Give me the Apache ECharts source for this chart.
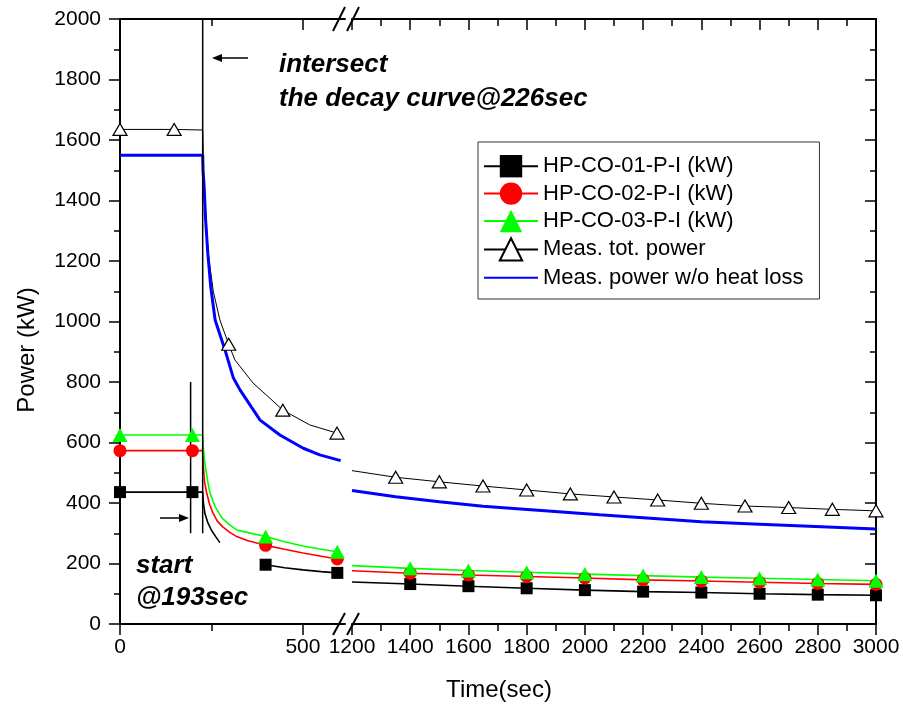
<!DOCTYPE html>
<html>
<head>
<meta charset="utf-8">
<title>Power decay</title>
<script src="https://cdn.jsdelivr.net/npm/echarts@6/dist/echarts.min.js"></script>
<style>
  html, body { margin: 0; padding: 0; background: #fff; }
  #chart { width: 903px; height: 711px; }
</style>
</head>
<body>
<div id="chart"></div>
<script>
// ---- data: time in seconds, power in kW ----
// left segment of the broken time axis (0–615 s)
const hpMarksL = [0, 198, 398, 594];
const hp01TimesL = [0, 198, 226, 228, 232, 240, 250, 262, 273, 330, 398, 450, 500, 550, 594, 603];
const hp01PowerL = [436, 436, 436, 400, 366, 335, 310, 288, 269, null, 196, 186, 179, 173, 169, 168];
const hp02TimesL = [0, 198, 226, 228, 231, 237, 245, 254, 266, 281, 300, 319, 350, 398, 450, 500, 550, 594, 603];
const hp02PowerL = [573, 573, 573, 520, 470, 433, 395, 367, 340, 321, 303, 289, 275, 260, 247, 235, 224, 215, 214];
const hp03TimesL = [0, 198, 226, 228, 231, 235, 240, 246, 260, 279, 300, 319, 350, 398, 450, 500, 550, 594, 603];
const hp03PowerL = [625, 625, 625, 580, 540, 509, 470, 433, 388, 350, 328, 311, 302, 289, 272, 258, 247, 239, 238];
const totMarksL = [0, 148, 297, 445, 593];
const totTimesL = [0, 148, 226, 227, 228, 232, 241, 255, 273, 297, 314, 364, 410, 445, 519, 593, 603];
const totPowerL = [1635, 1635, 1633, 1580, 1500, 1402, 1226, 1100, 1005, 925, 873, 796, 746, 707, 658, 631, 628];
const blueTimesL = [0, 226, 227, 230, 234, 240, 248, 260, 287, 310, 328, 383, 437, 501, 546, 603];
const bluePowerL = [1550, 1550, 1500, 1446, 1336, 1226, 1115, 1005, 906, 813, 774, 674, 625, 581, 559, 540];

// right segment (1200–3000 s)
const hpTimesR = [1200, 1400, 1600, 1800, 2000, 2200, 2400, 2600, 2800, 3000];
const hpMarksR = [1400, 1600, 1800, 2000, 2200, 2400, 2600, 2800, 3000];
const hp01PowerR = [139, 132, 125, 118, 112, 107, 104, 100, 97, 95];
const hp02PowerR = [176, 168, 162, 157, 152, 146, 142, 138, 134, 131];
const hp03PowerR = [193, 184, 177, 171, 165, 160, 155, 151, 147, 143];
const totTimesR = [1200, 1350, 1500, 1650, 1800, 1950, 2100, 2250, 2400, 2550, 2700, 2850, 3000];
const totMarksR = [1350, 1500, 1650, 1800, 1950, 2100, 2250, 2400, 2550, 2700, 2850, 3000];
const totPowerR = [507, 485, 470, 456, 443, 430, 420, 410, 399, 390, 385, 379, 374];
const blueTimesR = [1200, 1350, 1500, 1650, 1850, 2050, 2250, 2400, 2600, 2750, 3000];
const bluePowerR = [441, 421, 404, 389, 375, 361, 348, 338, 330, 324, 314];

// event markers
const startTime = 193;
const startRange = [300, 800];
const intersectTime = 226;
const intersectRange = [300, 2000];

// axis ticks
const leftMajorTicks = [0, 500];
const leftMinorTicks = [250];

const seriesNames = ['HP-CO-01-P-I (kW)', 'HP-CO-02-P-I (kW)', 'HP-CO-03-P-I (kW)', 'Meas. tot. power', 'Meas. power w/o heat loss'];

// ---- helpers ----
const FONT = '"Liberation Sans", Arial, sans-serif';

function points(times, values, marks) {
  return times.map(function (t, i) {
    const v = values[i];
    if (v === null) return { value: [t, '-'], symbol: 'none' };
    if (marks && marks.indexOf(t) >= 0) return { value: [t, v] };
    return { value: [t, v], symbol: 'none' };
  });
}

const styles = [
  { symbol: 'rect', symbolSize: 12, lineStyle: { color: '#000', width: 1.6 }, itemStyle: { color: '#000' } },
  { symbol: 'circle', symbolSize: 13, lineStyle: { color: '#ff0000', width: 1.6 }, itemStyle: { color: '#ff0000' } },
  { symbol: 'triangle', symbolSize: [15, 14], lineStyle: { color: '#00ff00', width: 1.6 }, itemStyle: { color: '#00ff00' } },
  { symbol: 'triangle', symbolSize: [14, 12], lineStyle: { color: '#000', width: 1 }, itemStyle: { color: '#fff', borderColor: '#000', borderWidth: 1.2 } },
  { symbol: 'none', lineStyle: { color: '#0000ff', width: 3 }, itemStyle: { color: '#0000ff' } }
];

function lineSeries(idx, data, xi, yi) {
  const s = styles[idx];
  return {
    type: 'line',
    name: seriesNames[idx],
    xAxisIndex: xi,
    yAxisIndex: yi,
    data: data,
    symbol: s.symbol,
    symbolSize: s.symbolSize,
    lineStyle: s.lineStyle,
    itemStyle: s.itemStyle,
    connectNulls: false,
    emphasis: { disabled: true },
    animation: false
  };
}

function vline(t, range) {
  return {
    type: 'line',
    name: 'marker-' + t,
    xAxisIndex: 0,
    yAxisIndex: 0,
    data: [[t, range[0]], [t, range[1]]],
    symbol: 'none',
    lineStyle: { color: '#000', width: 1.5 },
    emphasis: { disabled: true },
    z: 3
  };
}

const plainNumber = function (v) { return String(v); };
const axisLine = { show: true, onZero: false, lineStyle: { color: '#000', width: 2 } };
const labelStyle = { color: '#000', fontSize: 21, fontFamily: FONT, formatter: plainNumber };
const tickLine = { color: '#000', width: 1.5 };

function leftX(position, ticks, len, inside, showLine, showLabel) {
  return {
    type: 'value', gridIndex: 0, position: position, min: 0, max: 615,
    axisLine: showLine ? axisLine : { show: false, onZero: false },
    axisTick: { show: true, inside: inside, length: len, customValues: ticks, lineStyle: tickLine },
    axisLabel: showLabel ? Object.assign({ customValues: ticks, margin: 13 }, labelStyle) : { show: false },
    splitLine: { show: false }
  };
}

function rightX(position, inside, showLabel) {
  return {
    type: 'value', gridIndex: 1, position: position, min: 1200, max: 3000, interval: 200,
    axisLine: axisLine,
    axisTick: { show: true, inside: inside, length: 11, lineStyle: tickLine },
    minorTick: { show: true, splitNumber: 2, length: 7, lineStyle: tickLine },
    axisLabel: showLabel ? Object.assign({ margin: 13 }, labelStyle) : { show: false },
    splitLine: { show: false }, minorSplitLine: { show: false }
  };
}

function yAxis(grid, position, inside, showLabel) {
  return {
    type: 'value', gridIndex: grid, position: position, min: 0, max: 2000, interval: 200,
    axisLine: axisLine,
    axisTick: { show: true, inside: inside, length: 11, lineStyle: tickLine },
    minorTick: { show: true, splitNumber: 2, length: 6, lineStyle: tickLine },
    axisLabel: showLabel ? Object.assign({ margin: 19 }, labelStyle) : { show: false },
    splitLine: { show: false }, minorSplitLine: { show: false }
  };
}

function slash(x1, y1, x2, y2) {
  return { type: 'line', shape: { x1: x1, y1: y1, x2: x2, y2: y2 }, style: { stroke: '#000', lineWidth: 2 }, z: 10 };
}

function label(text, x, y, size, extra) {
  return Object.assign({
    type: 'text', x: x, y: y, z: 10,
    style: {
      text: text, fill: '#000',
      font: (extra && extra.font) || ('italic bold ' + size + 'px ' + FONT),
      align: (extra && extra.align) || 'left', textAlign: (extra && extra.align) || 'left',
      verticalAlign: 'middle', textVerticalAlign: 'middle'
    }
  }, extra && extra.rotation ? { rotation: extra.rotation } : {});
}

function arrow(xTail, xTip, y) {
  const dir = xTip > xTail ? 1 : -1;
  const base = xTip - dir * 10;
  return [
    { type: 'line', shape: { x1: xTail, y1: y, x2: base, y2: y }, style: { stroke: '#000', lineWidth: 1.5 }, z: 10 },
    { type: 'polygon', shape: { points: [[xTip, y], [base, y - 4], [base, y + 4]] }, style: { fill: '#000' }, z: 10 }
  ];
}

const series = [
  lineSeries(0, points(hp01TimesL, hp01PowerL, hpMarksL), 0, 0),
  lineSeries(1, points(hp02TimesL, hp02PowerL, hpMarksL), 0, 0),
  lineSeries(2, points(hp03TimesL, hp03PowerL, hpMarksL), 0, 0),
  lineSeries(3, points(totTimesL, totPowerL, totMarksL), 0, 0),
  lineSeries(4, points(blueTimesL, bluePowerL, null), 0, 0),
  lineSeries(0, points(hpTimesR, hp01PowerR, hpMarksR), 4, 1),
  lineSeries(1, points(hpTimesR, hp02PowerR, hpMarksR), 4, 1),
  lineSeries(2, points(hpTimesR, hp03PowerR, hpMarksR), 4, 1),
  lineSeries(3, points(totTimesR, totPowerR, totMarksR), 4, 1),
  lineSeries(4, points(blueTimesR, bluePowerR, null), 4, 1),
  vline(startTime, startRange),
  vline(intersectTime, intersectRange)
];

const chart = echarts.init(document.getElementById('chart'), null, { renderer: 'canvas' });
chart.setOption({
  backgroundColor: '#fff',
  animation: false,
  grid: [
    { left: 120, top: 19, width: 225, height: 605 },
    { left: 352, top: 19, width: 524, height: 605 }
  ],
  xAxis: [
    leftX('bottom', leftMajorTicks, 11, false, true, true),
    leftX('bottom', leftMinorTicks, 7, false, false, false),
    leftX('top', leftMajorTicks, 11, true, true, false),
    leftX('top', leftMinorTicks, 7, true, false, false),
    rightX('bottom', false, true),
    rightX('top', true, false)
  ],
  yAxis: [
    yAxis(0, 'left', false, true),
    yAxis(1, 'right', true, false)
  ],
  legend: {
    orient: 'vertical',
    left: 478,
    top: 142,
    padding: [13, 16, 10, 5],
    itemWidth: 54,
    itemHeight: 28,
    itemGap: 5,
    borderColor: '#333',
    borderWidth: 1,
    borderRadius: 0,
    backgroundColor: '#fff',
    selectedMode: false,
    textStyle: { color: '#000', fontSize: 22, fontFamily: FONT },
    data: [
      { name: seriesNames[0] },
      { name: seriesNames[1] },
      { name: seriesNames[2] },
      { name: seriesNames[3] },
      { name: seriesNames[4], itemStyle: { opacity: 0 } }
    ]
  },
  graphic: [
    slash(333, 635, 345, 613), slash(347, 635, 359, 613),
    slash(333, 31, 345, 7), slash(347, 31, 359, 7),
    label('intersect', 279, 65, 26),
    label('the decay curve@226sec', 279, 99, 26),
    label('start', 136, 566, 26),
    label('@193sec', 136, 598, 26),
    label('Time(sec)', 499, 690, 24, { font: '24px ' + FONT, align: 'center' }),
    label('Power (kW)', 27, 350, 24, { font: '24px ' + FONT, align: 'center', rotation: Math.PI / 2 })
  ].concat(arrow(248, 212, 58), arrow(160, 189, 518)),
  series: series
});
</script>
</body>
</html>
